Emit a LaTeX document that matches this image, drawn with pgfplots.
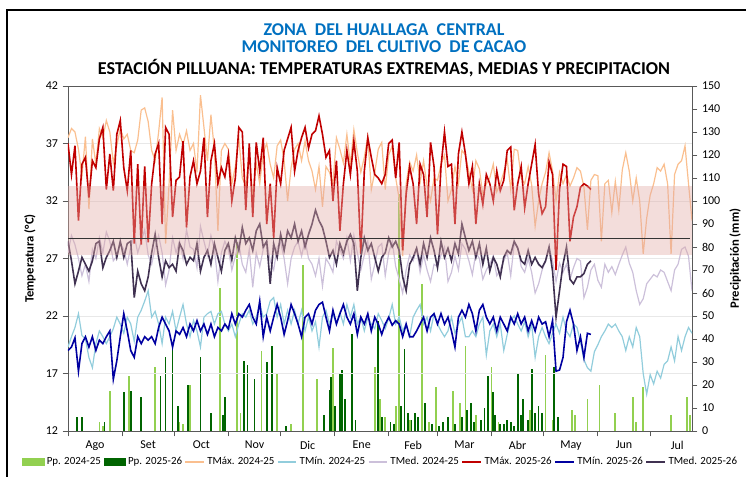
\documentclass[border=0pt]{standalone}
\usepackage{pgfplots}
\pgfplotsset{compat=1.18}
\usepackage{pgfplotstable}
\usepackage{fontspec}
\setmainfont{Carlito}

\definecolor{ttlblue}{RGB}{0,112,192}
\definecolor{ppA}{RGB}{146,208,80}
\definecolor{ppB}{RGB}{0,100,0}
\definecolor{txA}{RGB}{250,191,143}
\definecolor{tnA}{RGB}{146,205,220}
\definecolor{tmA}{RGB}{204,192,218}
\definecolor{txB}{RGB}{192,0,0}
\definecolor{tnB}{RGB}{0,0,160}
\definecolor{tmB}{RGB}{64,49,81}
\definecolor{bandc}{RGB}{225,170,165}

% Season 2024-25: day (from 1 Aug), TMax, TMin, TMed
\pgfplotstableread{
d tx tn tm
0 37.5 19.3 27.5
2 38.3 20.2 29.0
4 38.0 21.0 28.2
6 36.5 22.2 27.0
8 34.2 20.3 25.5
10 37.6 20.0 26.5
12 31.3 18.4 25.0
14 37.4 17.5 27.8
16 35.2 19.6 27.0
18 38.3 20.7 28.8
20 37.5 20.2 27.5
22 39.0 19.6 29.3
24 38.0 20.2 28.5
26 35.3 20.9 26.8
28 36.8 21.9 27.2
30 38.3 21.3 28.3
32 37.4 20.5 27.8
34 37.8 21.9 26.5
36 36.4 21.3 28.0
38 36.2 19.8 29.0
40 37.3 21.9 27.5
42 39.9 22.5 28.5
44 40.1 23.3 29.5
46 38.9 24.2 27.3
48 36.4 21.9 26.5
50 35.5 22.4 28.0
52 38.0 21.3 29.0
54 41.0 19.6 27.5
56 28.3 21.9 24.7
58 33.5 21.3 26.0
60 39.9 22.4 28.8
62 36.4 20.7 27.5
64 37.8 21.9 28.5
66 36.9 23.0 27.0
68 38.1 21.3 29.5
70 36.4 20.2 28.0
72 37.0 21.6 27.8
74 34.5 20.7 26.2
76 41.2 19.3 29.8
78 38.4 21.9 28.5
80 35.5 22.2 27.3
82 39.5 22.4 29.0
84 36.4 21.3 27.8
86 29.4 22.2 25.0
88 36.4 22.4 27.5
90 37.0 21.3 28.5
92 36.5 20.7 27.8
94 33.5 21.3 26.0
96 35.0 20.2 27.2
98 37.5 21.3 28.3
100 34.0 22.2 26.5
102 33.3 21.9 25.8
104 36.0 22.5 27.8
106 32.5 21.3 24.5
108 35.3 21.9 27.5
110 33.5 23.0 26.3
112 36.2 21.9 27.8
114 37.0 22.2 28.5
116 35.2 23.3 26.8
118 34.0 23.6 26.0
120 36.8 21.9 28.0
122 37.3 23.0 28.4
124 35.5 21.3 27.0
126 32.0 22.5 24.8
128 34.9 21.3 27.0
130 36.5 22.5 28.0
132 37.0 21.3 28.5
134 35.5 22.5 27.2
136 37.2 20.7 28.6
138 35.5 21.9 27.0
140 34.6 20.7 26.5
142 33.0 21.5 25.5
144 35.0 19.3 27.0
146 31.5 21.9 24.6
148 35.0 22.5 27.0
150 34.5 21.3 26.5
152 33.5 22.2 25.8
154 37.5 21.3 28.5
156 36.5 22.3 27.8
158 35.3 21.3 27.0
160 37.8 23.0 28.8
162 35.2 21.9 26.8
164 38.2 23.0 29.0
166 36.2 21.3 27.5
168 34.5 21.9 26.0
170 35.8 20.7 27.3
172 37.6 21.9 28.5
174 33.0 21.3 25.2
176 34.5 20.9 26.5
178 36.5 22.2 28.0
180 37.1 21.6 28.3
182 33.0 20.9 25.5
184 36.0 21.8 27.5
186 36.8 23.0 28.5
188 34.0 21.3 26.3
190 32.2 21.9 25.2
192 27.2 20.7 24.0
194 33.5 21.3 26.0
196 35.4 20.2 27.3
198 34.6 21.9 26.8
200 36.0 22.5 27.8
202 33.6 23.0 25.8
204 35.5 21.3 27.3
206 33.3 21.9 26.0
208 32.0 20.7 25.0
210 34.0 22.2 26.5
212 33.8 21.3 26.3
214 35.2 20.7 27.3
216 36.0 20.2 28.0
218 32.0 20.7 25.0
220 33.0 21.9 25.8
222 35.0 20.5 27.2
224 33.5 21.3 26.0
226 36.4 21.9 28.3
228 36.0 20.2 27.8
230 34.5 20.2 26.8
232 33.0 20.7 25.6
234 35.5 20.2 27.5
236 34.8 21.3 27.0
238 32.5 21.9 25.2
240 33.5 18.6 26.0
242 34.0 20.7 26.5
244 35.2 21.3 27.2
246 32.8 20.2 25.5
248 33.5 21.3 26.0
250 34.5 19.0 26.8
252 35.6 20.4 27.5
254 33.0 21.6 25.5
256 36.5 22.0 28.3
258 36.4 21.3 28.0
260 34.0 20.7 26.3
262 33.5 21.5 25.8
264 35.0 20.2 27.0
266 33.4 21.3 25.8
268 29.8 18.4 24.0
270 32.0 20.2 24.8
272 33.5 21.0 26.0
274 34.5 20.2 26.8
276 36.2 19.6 28.0
278 34.6 20.5 26.8
280 32.0 21.3 25.0
282 34.5 20.5 26.6
284 33.5 21.9 25.8
286 34.3 20.7 26.5
288 33.3 20.2 25.2
290 34.0 21.3 26.2
292 34.9 21.0 27.0
294 34.6 19.8 26.8
296 33.2 18.2 23.6
298 29.5 17.5 24.5
300 33.8 17.2 26.0
302 34.3 18.9 26.5
304 34.2 19.5 25.1
306 28.5 20.2 24.5
308 33.5 20.7 26.5
310 33.8 21.3 25.8
312 31.0 21.0 26.3
314 33.7 21.3 25.6
316 31.2 20.7 26.5
318 34.7 20.2 27.3
320 36.2 19.0 28.0
322 34.6 20.2 26.6
324 32.0 19.3 25.8
326 34.0 21.0 24.2
328 32.0 20.2 23.0
330 27.4 17.0 23.5
332 30.5 15.2 24.8
334 32.5 16.9 25.2
336 33.5 16.1 25.6
338 34.9 17.2 25.4
340 34.6 16.6 26.0
342 35.2 17.8 25.8
344 33.5 18.1 25.0
346 27.4 19.3 24.2
348 34.3 18.1 26.0
350 35.2 20.2 26.5
352 35.5 19.0 27.8
354 36.8 20.2 28.0
356 33.5 21.0 27.2
358 30.3 20.5 24.2
}\seasonA

% Season 2025-26
\pgfplotstableread{
d tx tn tm
0 37.0 19.0 28.5
2 34.3 19.3 26.8
4 36.8 20.1 24.8
6 30.3 17.2 25.9
8 35.2 19.6 27.1
10 35.8 20.2 26.5
12 32.3 19.3 25.9
14 35.5 20.2 26.8
16 34.9 19.0 28.3
18 37.4 19.9 28.5
20 38.4 19.6 26.2
22 33.0 20.2 27.1
24 36.1 20.7 27.7
26 32.9 16.5 28.5
28 37.8 18.1 27.1
30 39.0 20.2 28.5
32 34.9 22.2 27.1
34 32.9 20.7 28.3
36 36.4 19.0 28.5
38 28.3 18.4 23.6
40 35.2 20.2 25.9
42 28.2 19.6 24.8
44 35.0 20.2 24.2
46 28.4 19.9 25.4
48 33.5 20.2 27.5
50 36.1 19.6 29.1
52 37.0 21.0 27.1
54 30.0 21.9 25.4
56 38.4 21.3 26.8
58 37.8 20.7 26.2
60 30.6 19.3 26.5
62 33.8 20.7 25.9
64 34.1 20.4 28.3
66 37.2 21.0 27.7
68 29.7 20.2 26.5
70 34.1 21.3 27.1
72 35.5 20.7 26.8
74 33.5 21.6 28.3
76 34.6 20.7 25.9
78 37.5 21.3 27.1
80 30.6 20.4 27.7
82 35.5 21.3 26.5
84 37.0 20.2 28.3
86 33.5 21.0 27.1
88 34.9 20.7 25.9
90 34.1 21.3 27.7
92 36.0 20.9 28.3
94 32.0 22.2 26.9
96 34.0 21.3 28.8
98 38.4 22.2 27.7
100 38.0 21.9 29.7
102 31.2 22.5 28.3
104 37.0 23.0 28.8
106 30.6 21.9 27.7
108 37.1 21.3 29.4
110 34.6 23.3 30.0
112 37.5 20.2 28.0
114 30.0 21.9 28.5
116 33.5 20.7 24.8
118 28.8 21.9 28.3
120 34.9 23.0 27.1
122 33.5 21.9 29.1
124 36.4 20.4 27.7
126 37.4 21.6 29.4
128 38.4 23.0 28.8
130 34.6 22.2 30.0
132 36.4 21.3 28.5
134 37.5 20.2 29.4
136 38.4 21.9 28.0
138 36.6 22.2 29.1
140 37.8 21.3 30.0
142 38.1 22.5 31.2
144 39.4 23.0 30.3
146 37.8 23.2 29.7
148 35.8 21.9 28.5
150 36.4 20.7 27.1
152 32.0 22.5 27.7
154 35.5 21.3 26.5
156 29.4 22.2 28.3
158 33.5 23.0 27.4
160 36.4 21.9 28.5
162 34.3 21.3 29.1
164 37.2 22.2 28.3
166 34.6 20.4 24.2
168 27.4 21.9 27.1
170 34.6 21.3 28.8
172 37.5 22.2 27.7
174 35.8 20.7 28.3
176 34.3 21.9 27.1
178 34.0 21.3 25.9
180 33.5 20.4 27.1
182 34.3 21.3 27.5
184 37.0 21.9 28.8
186 37.3 21.2 28.0
188 34.0 21.6 28.5
190 37.1 21.3 27.7
192 27.7 20.2 25.4
194 32.6 21.3 24.2
196 35.0 20.2 26.5
198 33.5 20.2 27.1
200 30.0 20.7 27.9
202 35.2 21.3 26.5
204 34.3 21.9 28.3
206 30.6 20.7 27.1
208 37.1 21.9 28.8
210 35.0 22.2 27.7
212 29.1 21.3 26.2
214 35.0 22.2 28.5
216 38.0 21.3 27.1
218 35.0 21.9 27.9
220 35.2 20.7 26.8
222 30.0 19.3 28.3
224 36.1 21.9 27.4
226 38.0 22.5 30.0
228 36.1 21.9 28.8
230 33.5 23.0 27.7
232 35.0 22.2 28.5
234 30.0 20.7 27.1
236 33.5 22.5 28.3
238 31.7 23.0 26.5
240 34.3 21.9 27.9
242 33.5 21.3 25.9
244 32.0 21.9 27.1
246 34.6 20.7 26.5
248 32.9 21.9 25.4
250 33.8 21.3 27.1
252 36.4 20.7 27.7
254 36.7 21.9 27.4
256 31.2 21.3 28.5
258 33.5 22.2 27.9
260 35.0 21.3 26.8
262 31.4 21.9 26.5
264 33.5 20.7 27.7
266 35.2 21.6 26.5
268 36.9 20.7 27.1
270 32.6 21.9 26.5
272 30.9 21.3 26.2
274 31.5 21.5 26.8
276 35.4 20.2 28.0
278 34.3 21.6 25.9
280 26.0 17.2 21.9
282 33.0 17.3 24.2
284 35.2 18.4 26.5
286 35.0 21.5 28.0
288 28.5 22.5 25.2
290 30.6 21.3 24.8
292 31.5 19.0 25.4
294 33.2 20.2 25.4
296 33.5 18.4 25.7
298 33.3 20.5 26.5
300 33.0 20.4 26.8
}\seasonB

\begin{document}
\begin{tikzpicture}[x=0.75pt,y=0.75pt]
\useasboundingbox (0,0) rectangle (746,476);
\draw[line width=1.5pt] (7,-30) rectangle (800,466);
\node[inner sep=0pt, font=\bfseries\fontsize{13.5}{15}\selectfont, text=ttlblue] at (384,446) {ZONA\ \ DEL HUALLAGA\ \ CENTRAL};
\node[inner sep=0pt, font=\bfseries\fontsize{13.5}{15}\selectfont, text=ttlblue] at (384,429) {MONITOREO\ \ DEL CULTIVO\ \ DE CACAO};
\node[inner sep=0pt, font=\bfseries\fontsize{13.6}{15}\selectfont, text=black] at (384,408) {ESTACIÓN PILLUANA: TEMPERATURAS EXTREMAS, MEDIAS Y PRECIPITACION};

% Precipitation axis (right)
\begin{axis}[
  at={(51pt,33.75pt)}, anchor=south west, scale only axis,
  width=468pt, height=258.75pt,
  xmin=0, xmax=358, ymin=0, ymax=150,
  axis x line=none, axis y line*=right,
  ytick={0,10,...,150}, tick align=outside, major tick length=4pt,
  y axis line style={gray!70!black, line width=0.6pt},
  ytick style={gray!70!black, line width=0.6pt},
  /pgf/number format/assume math mode=true,
  yticklabel style={font=\fontsize{9}{10}\selectfont},
  ylabel={Precipitación (mm)},
  every axis y label/.style={at={(axis description cs:1.069,0.5)}, rotate=90, anchor=center, font=\bfseries\fontsize{9.5}{11}\selectfont},
]
\addplot[ycomb, ppA, line width=1.3pt] coordinates {
(18,4) (20,2) (24,17.5) (35,24) (50,28) (64,4) (66,3) (70,20) (87,62) (97,82) (99,8)
(111,35) (120,25) (128,3) (135,72) (143,22.6) (152,36) (159,4) (176,27.7) (179,14) (182,6)
(188,11) (190,103) (196,5) (203,64) (207,4) (211,19) (221,17.5) (225,12) (228,37) (234,7)
(243,28) (247,4) (265,9) (274,33) (278,5) (289,9) (291,7) (298,14) (305,20) (314,8)
(324,15) (326,4) (330,19) (346,7) (355,15) (357,7)};
\addplot[ycomb, ppB, line width=1.3pt] coordinates {
(0,8) (5,6) (8,6) (21,4) (32,17) (36,17.5) (42,15) (53,24) (56,32) (60,38) (63,11) (69,20)
(76,32) (82,8) (89,7) (90,15) (101,30.6) (103,28.5) (107,22.6) (114,30) (117,37) (125,2)
(147,7) (150,18) (151,23.5) (153,11) (156,25) (157,26.5) (159,14) (163,42) (165,5) (178,48)
(180,6) (185,4) (187,3) (191,11) (193,35.6) (195,8) (197,5) (199,8) (201,6) (205,12) (209,3)
(213,2) (215,4) (218,6) (222,3) (226,6) (229,9) (231,12) (233,4) (237,5) (239,10) (241,24)
(244,17) (245,7) (248,3) (250,3) (252,5) (254,4) (256,2) (258,25) (260,7) (261,14) (264,5)
(266,27) (268,8) (270,11) (272,8) (279,28) (281,6)};
\end{axis}

% Temperature axis (left)
\begin{axis}[
  at={(51pt,33.75pt)}, anchor=south west, scale only axis,
  width=468pt, height=258.75pt,
  xmin=0, xmax=358, ymin=12, ymax=42,
  axis line style={gray!70!black, line width=0.6pt},
  ytick={12,17,...,42}, ytick pos=left, xtick pos=bottom,
  tick align=outside, major tick length=4pt, minor tick length=4pt,
  ymajorgrids, grid style={gray!18, line width=0.6pt},
  xtick={15.5,46,76.5,107,137.5,168.5,198,227.5,258,288.5,319,349.5},
  xticklabels={Ago,Set,Oct,Nov,Dic,Ene,Feb,Mar,Abr,May,Jun,Jul},
  major x tick style={draw=none},
  minor xtick={0,31,61,92,122,153,184,212,243,273,304,334},
  minor x tick style={gray!70!black, line width=0.6pt},
  ytick style={gray!70!black, line width=0.6pt},
  /pgf/number format/assume math mode=true,
  ticklabel style={font=\fontsize{9}{10}\selectfont},
  ylabel={Temperatura (°C)},
  every axis y label/.style={at={(axis description cs:-0.061,0.5)}, rotate=90, anchor=center, font=\bfseries\fontsize{9.5}{11}\selectfont},
  legend columns=-1,
  legend cell align=left,
  legend style={at={(axis description cs:-0.0737,-0.0899)}, anchor=west, draw=none, fill=none, inner sep=0pt,
    font=\fontsize{8.2}{10}\selectfont, /tikz/every even column/.append style={column sep=0pt}},
  legend image code/.code={\draw[#1] (0pt,0pt) -- (14pt,0pt);},
]
\addlegendimage{legend image code/.code={\fill[ppA] (0pt,-2.6pt) rectangle (16pt,2.6pt);}}
\addlegendentry{Pp. 2024-25}
\addlegendimage{legend image code/.code={\fill[ppB] (0pt,-2.6pt) rectangle (16pt,2.6pt);}}
\addlegendentry{Pp. 2025-26}
\addplot[txA, line width=0.9pt] table[x=d, y=tx] {\seasonA};
\addlegendentry{TMáx. 2024-25}
\addplot[tnA, line width=0.9pt] table[x=d, y=tn] {\seasonA};
\addlegendentry{TMín. 2024-25}
\addplot[tmA, line width=0.9pt] table[x=d, y=tm] {\seasonA};
\addlegendentry{TMed. 2024-25}
\addplot[txB, line width=1.2pt] table[x=d, y=tx] {\seasonB};
\addlegendentry{TMáx. 2025-26}
\addplot[tnB, line width=1.2pt] table[x=d, y=tn] {\seasonB};
\addlegendentry{TMín. 2025-26}
\addplot[tmB, line width=1.2pt] table[x=d, y=tm] {\seasonB};
\addlegendentry{TMed. 2025-26}
\addplot[forget plot, draw=none, fill=bandc, fill opacity=0.4] coordinates {(0,27.3) (358,27.3) (358,33.3) (0,33.3)};
\addplot[forget plot, gray!40!black, line width=0.8pt] coordinates {(0,28.7) (357,28.7)};
\end{axis}
\end{tikzpicture}
\end{document}
